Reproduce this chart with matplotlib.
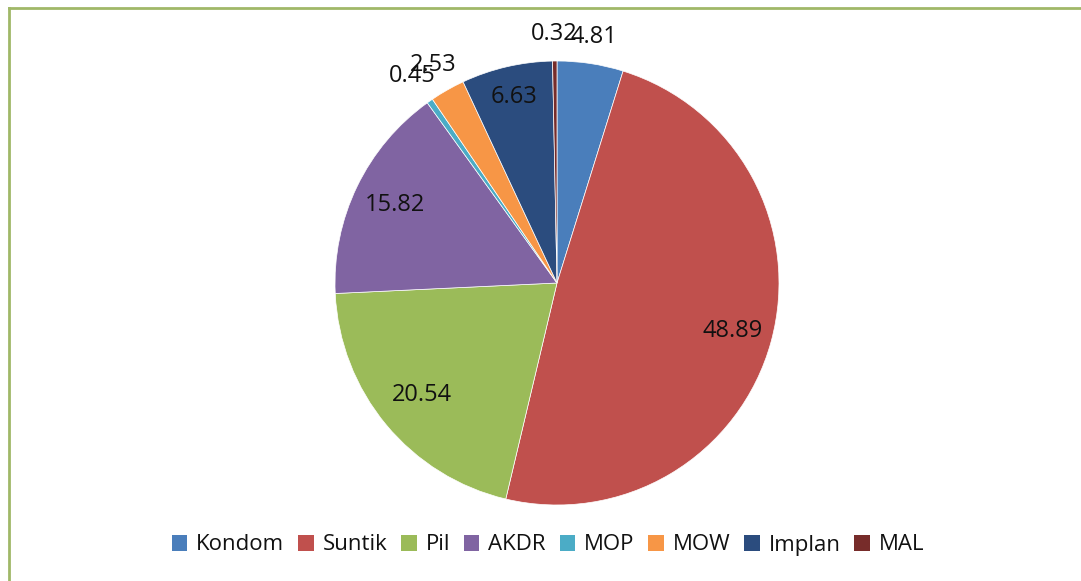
import matplotlib
matplotlib.use("Agg")
import matplotlib.pyplot as plt
import numpy as np
from matplotlib.lines import Line2D
from matplotlib.patches import Patch

categories = ["Kondom", "Suntik", "Pil", "AKDR", "MOP", "MOW", "Implan", "MAL"]
values = [4.81, 48.89, 20.54, 15.82, 0.45, 2.53, 6.63, 0.32]
value_labels = ["4.81", "48.89", "20.54", "15.82", "0.45", "2.53", "6.63", "0.32"]

colors = ["#4A7EBB", "#C0504D", "#9BBB59", "#8064A2", "#4BACC6", "#F79646", "#2B4C7E", "#772C2A"]
label_radius = [1.12, 0.82, 0.79, 0.81, 1.14, 1.13, 0.86, 1.12]

plt.rcParams['font.family'] = ['Open Sans', 'DejaVu Sans']

W, H = 1081, 581
fig = plt.figure(figsize=(W / 100, H / 100), dpi=100)
fig.patch.set_facecolor("white")

cx, cy, r = 557, 283, 222
ax = fig.add_axes([(cx - r) / W, (H - cy - r) / H, 2 * r / W, 2 * r / H])
wedges, _ = ax.pie(values, colors=colors, startangle=90, counterclock=False,
                   radius=1.0, wedgeprops=dict(edgecolor="white", linewidth=0.5))
ax.set_xlim(-1, 1)
ax.set_ylim(-1, 1)
ax.set_aspect("equal")
ax.axis("off")

for w, lab, rf in zip(wedges, value_labels, label_radius):
    ang = np.deg2rad((w.theta1 + w.theta2) / 2)
    ax.text(rf * np.cos(ang), rf * np.sin(ang), lab, ha="center", va="center",
            fontsize=17, color="#111111")

handles = [Patch(facecolor=c, edgecolor="none") for c in colors]
leg = fig.legend(handles, categories, loc="center", bbox_to_anchor=(548 / W, 1 - 545 / H),
                 ncol=len(categories), frameon=False, fontsize=16, handlelength=0.7,
                 handleheight=0.7, handletextpad=0.4, columnspacing=0.62)
for t in leg.get_texts():
    t.set_color("#111111")

border = "#A0B868"
fig.add_artist(Line2D([8.5 / W, 1.0], [1 - 7.5 / H, 1 - 7.5 / H], color=border, lw=2.0,
                      transform=fig.transFigure))
fig.add_artist(Line2D([8.5 / W, 8.5 / W], [0.0, 1 - 7.5 / H], color=border, lw=2.0,
                      transform=fig.transFigure))

fig.savefig("out.png", dpi=100)
